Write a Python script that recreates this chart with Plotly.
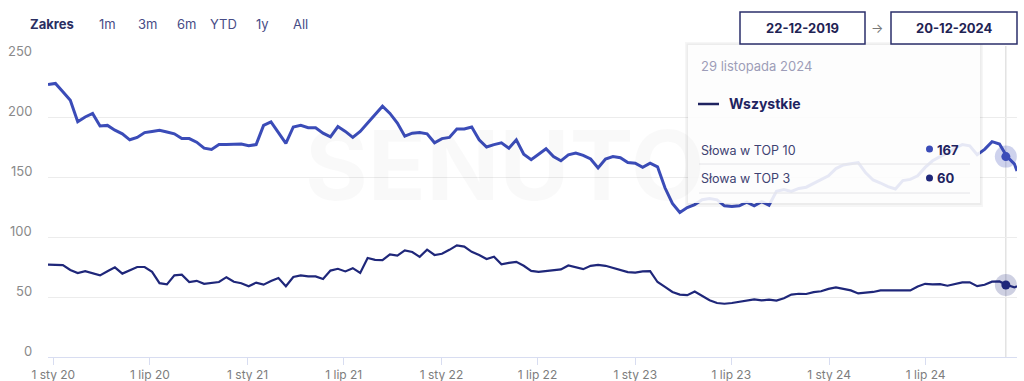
import pandas as pd
import plotly.graph_objects as go

# ---------------- data ----------------
dates = list(pd.date_range("2019-12-22", periods=131, freq="14D").strftime("%Y-%m-%d")) + ["2024-12-20"]

top10 = [227, 228, 221, 214, 196, 200, 203, 192.5, 193, 189,
         186, 181, 183, 187, 188, 189, 187.5, 186, 182, 182,
         179, 174, 173, 177, 177, 177, 177.5, 176, 177, 193,
         196, 187, 178, 191.7, 193, 191, 191, 186.5, 183.5, 192,
         188, 183, 188, 195, 202, 209, 203, 195, 184, 186.5,
         187, 186, 178.5, 182, 183, 190, 190, 191.7, 181, 175,
         177, 178.5, 174, 181, 169, 164.5, 169, 173.5, 167, 163.5,
         168.5, 170, 168, 165, 157.5, 165, 167, 166, 162, 161.5,
         158, 161.5, 158.5, 141, 128, 120.5, 124.5, 127, 131, 132,
         131, 126, 125.5, 126, 129, 126, 129.5, 126.5, 138, 139.5,
         138, 140.5, 141.5, 144.5, 148, 151, 157, 160, 161, 162,
         153.5, 147.5, 145, 142, 140, 147, 148, 151, 158, 163.5,
         167, 170, 174, 177, 176, 168.5, 173, 179.5, 177.5, 167,
         161, 155]

top3 = [77, 77, 76.5, 72.5, 70, 71.5, 70, 68, 71.5, 74.7,
        69.5, 72.5, 75, 75, 71, 61.5, 60.5, 68, 68.6, 62.5,
        63.5, 61, 61.8, 62.5, 66.5, 62.7, 61.5, 59, 62, 60.3,
        63.3, 65.8, 59, 66.7, 68, 67.2, 67.2, 65, 72, 73.5,
        71.3, 74, 70, 82.5, 81, 80.8, 85.5, 84.5, 88.9, 87.5,
        83.5, 89.4, 85, 86, 89.3, 93, 92, 87.6, 85, 81.7,
        83.5, 77.2, 78.5, 79.3, 76, 71.8, 71, 71.6, 71.9, 73,
        76.3, 74.5, 73.2, 76, 76.8, 76, 74.2, 72.7, 70.8, 70.3,
        71.3, 71.5, 62.5, 58.4, 54.2, 52, 51.5, 54.6, 51, 47.3,
        45, 44.4, 45, 46, 47.2, 48, 47.2, 47.8, 47, 49,
        52, 52.7, 52.5, 54, 54.8, 56.8, 58, 56.5, 55.5, 53,
        53.5, 54.2, 55.5, 55.5, 55.5, 55.5, 55.5, 58.8, 61, 60.5,
        60.7, 59.4, 60.5, 62.2, 62.2, 59, 60.2, 62.8, 63, 60,
        58, 58.9]

tick_dates = ["2020-01-01", "2020-07-01", "2021-01-01", "2021-07-01", "2022-01-01",
              "2022-07-01", "2023-01-01", "2023-07-01", "2024-01-01", "2024-07-01"]
tick_labels = ["1 sty 20", "1 lip 20", "1 sty 21", "1 lip 21", "1 sty 22",
               "1 lip 22", "1 sty 23", "1 lip 23", "1 sty 24", "1 lip 24"]
y_ticks = [0, 50, 100, 150, 200, 250]

hover_date = "2024-11-29"
hover_label = "29 listopada 2024"
group_name = "Wszystkie"
series_names = ["Słowa w TOP 10", "Słowa w TOP 3"]
hover_values = [167, 60]
date_from, date_to = "22-12-2019", "20-12-2024"
range_title = "Zakres"
range_buttons = ["1m", "3m", "6m", "YTD", "1y", "All"]

# ---------------- styling ----------------
C_TOP = "#3b4cb8"
C_BOT = "#1f277a"
NAVY = "#1f2360"
FONT = "Inter"

L, R, T, B = 48, 7, 57, 24
W, H = 1024, 381
PW, PH = W - L - R, H - T - B


def px(x):
    return (x - L) / PW


def py(y):
    return (H - B - y) / PH


fig = go.Figure()
fig.add_trace(go.Scatter(x=dates, y=top10, mode="lines", name=series_names[0],
                         line=dict(color=C_TOP, width=3), hoverinfo="skip"))
fig.add_trace(go.Scatter(x=dates, y=top3, mode="lines", name=series_names[1],
                         line=dict(color=C_BOT, width=2.2), hoverinfo="skip"))
# hover markers
fig.add_trace(go.Scatter(x=[hover_date, hover_date], y=hover_values, mode="markers",
                         marker=dict(size=22, color=["rgba(59,76,184,0.25)", "rgba(31,39,122,0.22)"]),
                         hoverinfo="skip"))
fig.add_trace(go.Scatter(x=[hover_date, hover_date], y=hover_values, mode="markers",
                         marker=dict(size=9, color=[C_TOP, C_BOT]), hoverinfo="skip"))

shapes = []
# crosshair
shapes.append(dict(type="line", xref="x", yref="paper", x0=hover_date, x1=hover_date,
                   y0=0, y1=py(46), line=dict(color="#d4d4d4", width=1), layer="below"))
# tooltip shadow + box
shapes.append(dict(type="rect", xref="paper", yref="paper", x0=px(685), x1=px(983),
                   y0=py(207), y1=py(42), fillcolor="rgba(0,0,0,0.035)", line=dict(width=0), layer="above"))
shapes.append(dict(type="rect", xref="paper", yref="paper", x0=px(686.5), x1=px(981.5),
                   y0=py(205), y1=py(43.5), fillcolor="rgba(0,0,0,0.04)", line=dict(width=0), layer="above"))
shapes.append(dict(type="rect", xref="paper", yref="paper", x0=px(688), x1=px(980),
                   y0=py(203), y1=py(45), fillcolor="rgba(255,255,255,0.88)", line=dict(width=0), layer="above"))
for yy in (164, 193):
    shapes.append(dict(type="line", xref="paper", yref="paper", x0=px(699), x1=px(970),
                       y0=py(yy), y1=py(yy), line=dict(color="#e4e4e8", width=1), layer="above"))
shapes.append(dict(type="line", xref="paper", yref="paper", x0=px(698), x1=px(719),
                   y0=py(104), y1=py(104), line=dict(color=NAVY, width=2.5), layer="above"))
for yy, col in ((149, C_TOP), (178, C_BOT)):
    shapes.append(dict(type="circle", xref="paper", yref="paper", x0=px(926), x1=px(933),
                       y0=py(yy + 3.5), y1=py(yy - 3.5), fillcolor=col, line=dict(width=0), layer="above"))
# date boxes
for x0, x1 in ((740, 865), (891, 1017)):
    shapes.append(dict(type="rect", xref="paper", yref="paper", x0=px(x0), x1=px(x1),
                       y0=py(44), y1=py(12), fillcolor="white",
                       line=dict(color="#2b2f6b", width=1.5), layer="above"))

ann = []


def text(s, x, y, size=13, color=NAVY, anchor="left", bold=False):
    ann.append(dict(text=f"<b>{s}</b>" if bold else s, x=px(x), y=py(y), xref="paper", yref="paper",
                    xanchor=anchor, yanchor="middle", showarrow=False,
                    font=dict(family=FONT, size=size, color=color)))


# watermark
ann.append(dict(text="<b>SENUTO</b>", x=px(505), y=py(165), xref="paper", yref="paper", showarrow=False,
                xanchor="center", yanchor="middle",
                font=dict(family=FONT, size=96, color="rgba(0,0,0,0.025)")))
# y tick labels (drawn above their gridlines, as in the original)
for v in y_ticks:
    ann.append(dict(text=str(v), x=px(34), y=v, xref="paper", yref="y", yshift=6,
                    xanchor="right", yanchor="middle", showarrow=False,
                    font=dict(family=FONT, size=13, color="#8a8a8a")))
# range selector
text(range_title, 28, 24, size=13, color="#2a2e62", bold=True)
for lab, xx in zip(range_buttons, (107, 147, 186, 223, 262, 300)):
    text(lab, xx, 24, size=13, color="#474c86", anchor="center")
# date boxes text
text(date_from, 802.5, 28, size=13, color="#1f2354", anchor="center", bold=True)
text("→", 877, 28, size=13, color="#777777", anchor="center")
text(date_to, 954, 28, size=13, color="#1f2354", anchor="center", bold=True)
# tooltip text
text(hover_label, 699, 66, size=13, color="#9d9db8")
text(group_name, 727, 104, size=14, color=NAVY, bold=True)
text(series_names[0], 699, 150, size=12.5, color="#3d4272")
text(series_names[1], 699, 178, size=12.5, color="#3d4272")
text(str(hover_values[0]), 935, 150, size=13, color=NAVY, bold=True)
text(str(hover_values[1]), 935, 178, size=13, color=NAVY, bold=True)

fig.update_layout(
    width=W, height=H,
    margin=dict(l=L, r=R, t=T, b=B, autoexpand=False),
    paper_bgcolor="white", plot_bgcolor="white",
    showlegend=False,
    font=dict(family=FONT),
    shapes=shapes, annotations=ann,
    xaxis=dict(type="date", range=[dates[0], dates[-1]], tickvals=tick_dates, ticktext=tick_labels,
               showgrid=False, zeroline=False, showline=True, linecolor="#d8ddf1", linewidth=1,
               ticks="outside", ticklen=7, tickcolor="#d8ddf1", automargin=False,
               tickfont=dict(family=FONT, size=12, color="#7d7d7d")),
    yaxis=dict(range=[0, 250], tickvals=y_ticks, showgrid=True, gridcolor="#ececec", gridwidth=1,
               zeroline=False, showline=False, ticks="", showticklabels=False, automargin=False),
)

fig.write_html("out.html")
